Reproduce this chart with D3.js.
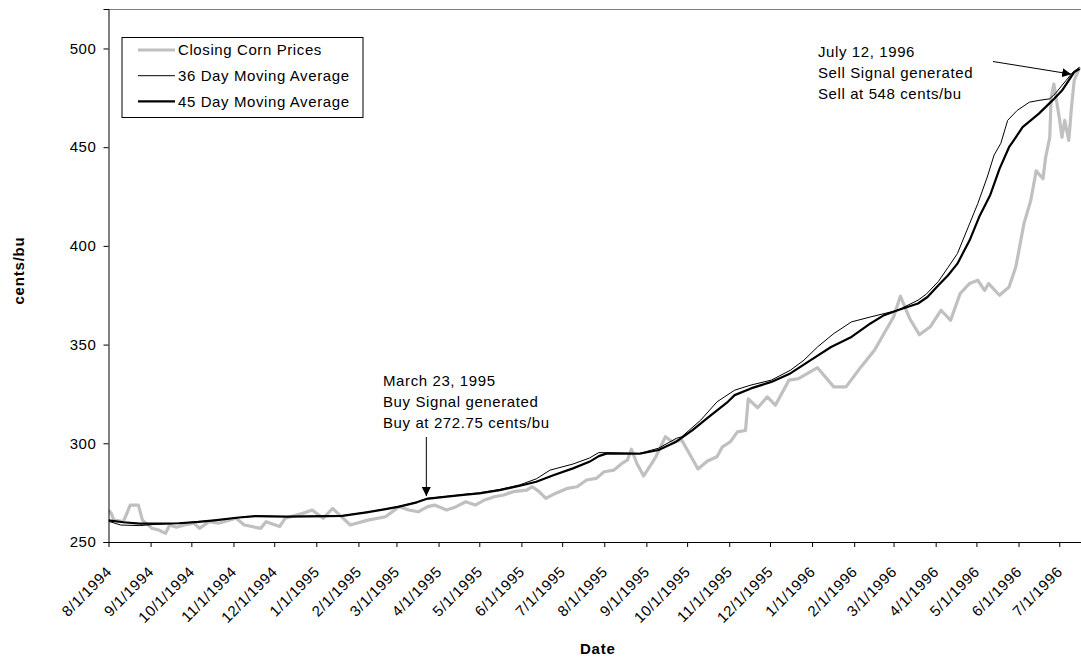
<!DOCTYPE html>
<html>
<head>
<meta charset="utf-8">
<script src="https://cdn.jsdelivr.net/npm/d3@7"></script>
<style>
  html, body { margin: 0; padding: 0; background: #fff; }
  svg { display: block; font-family: "Liberation Sans", Arial, sans-serif; }
  .lbl { font-size: 15px; letter-spacing: 0.6px; fill: #000; }
  .title { font-size: 15px; font-weight: bold; letter-spacing: 0.8px; fill: #000; }
</style>
</head>
<body>
<svg id="chart" width="1081" height="657"></svg>
<script>
// Daily closing corn prices (cents/bu), sampled
const closingPrices = [
  ["1994-08-01", 266.2], ["1994-08-03", 264.5], ["1994-08-05", 261.1], ["1994-08-12", 260.3],
  ["1994-08-17", 268.7], ["1994-08-23", 268.7], ["1994-08-26", 261.1], ["1994-09-02", 256.9],
  ["1994-09-07", 256.1], ["1994-09-12", 254.4], ["1994-09-15", 258.6], ["1994-09-20", 257.5],
  ["1994-09-26", 258.6], ["1994-10-03", 259.5], ["1994-10-07", 256.9], ["1994-10-14", 260.3],
  ["1994-10-21", 259.5], ["1994-11-03", 262.0], ["1994-11-09", 258.6], ["1994-11-21", 256.9],
  ["1994-11-25", 260.3], ["1994-12-05", 257.8], ["1994-12-09", 262.0], ["1994-12-22", 264.5],
  ["1994-12-29", 266.2], ["1995-01-06", 262.0], ["1995-01-13", 267.0], ["1995-01-26", 258.6],
  ["1995-02-08", 261.1], ["1995-02-21", 262.8], ["1995-03-03", 267.9], ["1995-03-10", 266.2],
  ["1995-03-17", 265.3], ["1995-03-24", 267.9], ["1995-03-29", 268.7], ["1995-04-07", 266.2],
  ["1995-04-14", 267.9], ["1995-04-21", 270.4], ["1995-04-28", 268.7], ["1995-05-05", 271.3],
  ["1995-05-12", 272.9], ["1995-05-19", 273.8], ["1995-05-26", 275.5], ["1995-06-05", 276.3],
  ["1995-06-09", 278.0], ["1995-06-14", 275.5], ["1995-06-19", 272.1], ["1995-06-26", 274.6],
  ["1995-07-05", 277.2], ["1995-07-12", 278.0], ["1995-07-19", 281.4], ["1995-07-26", 282.2],
  ["1995-08-01", 285.6], ["1995-08-08", 286.4], ["1995-08-14", 289.8], ["1995-08-18", 291.5],
  ["1995-08-21", 297.0], ["1995-08-25", 289.8], ["1995-08-30", 283.5], ["1995-09-05", 289.8],
  ["1995-09-08", 293.2], ["1995-09-15", 303.3], ["1995-09-20", 300.8], ["1995-09-27", 301.6],
  ["1995-10-04", 293.2], ["1995-10-09", 287.0], ["1995-10-16", 291.0], ["1995-10-23", 293.2],
  ["1995-10-27", 298.2], ["1995-11-02", 300.8], ["1995-11-07", 305.8], ["1995-11-13", 306.5],
  ["1995-11-15", 322.5], ["1995-11-22", 318.0], ["1995-11-29", 323.5], ["1995-12-05", 319.3],
  ["1995-12-15", 332.0], ["1995-12-22", 332.8], ["1996-01-05", 338.3], ["1996-01-17", 328.6],
  ["1996-01-26", 328.6], ["1996-02-06", 338.7], ["1996-02-16", 347.2], ["1996-02-23", 355.6],
  ["1996-03-01", 364.0], ["1996-03-06", 374.5], ["1996-03-13", 363.0], ["1996-03-20", 355.0],
  ["1996-03-28", 359.0], ["1996-04-05", 367.4], ["1996-04-12", 362.3], ["1996-04-19", 375.8],
  ["1996-04-26", 381.0], ["1996-05-02", 382.6], ["1996-05-07", 377.5], ["1996-05-10", 380.9],
  ["1996-05-18", 375.0], ["1996-05-25", 379.2], ["1996-05-30", 389.3], ["1996-06-05", 411.3],
  ["1996-06-10", 423.0], ["1996-06-14", 438.0], ["1996-06-19", 434.0], ["1996-06-21", 445.0],
  ["1996-06-24", 455.0], ["1996-06-25", 475.0], ["1996-06-27", 482.0], ["1996-07-01", 465.0],
  ["1996-07-03", 455.0], ["1996-07-05", 463.6], ["1996-07-08", 453.4], ["1996-07-10", 470.3],
  ["1996-07-12", 483.8], ["1996-07-16", 490.5]
];

// 36 day moving average
const movingAvg36 = [
  ["1994-08-01", 260.5], ["1994-08-10", 258.6], ["1994-08-24", 258.3], ["1994-09-06", 259.0],
  ["1994-09-22", 259.5], ["1994-10-06", 260.2], ["1994-10-18", 261.0], ["1994-11-05", 262.4],
  ["1994-11-17", 263.1], ["1994-12-10", 262.9], ["1995-01-10", 263.1], ["1995-01-20", 263.3],
  ["1995-02-07", 265.1], ["1995-02-20", 266.6], ["1995-03-03", 268.0], ["1995-03-16", 270.2],
  ["1995-03-24", 272.1], ["1995-04-07", 273.1], ["1995-04-21", 274.2], ["1995-05-01", 274.9],
  ["1995-05-16", 276.6], ["1995-05-31", 279.0], ["1995-06-12", 282.0], ["1995-06-22", 286.4],
  ["1995-07-09", 289.5], ["1995-07-21", 292.5], ["1995-07-28", 295.3], ["1995-08-03", 295.2],
  ["1995-08-27", 294.9], ["1995-09-10", 297.5], ["1995-09-23", 302.5], ["1995-09-27", 303.3],
  ["1995-10-11", 311.7], ["1995-10-23", 321.0], ["1995-11-05", 326.9], ["1995-11-17", 329.5],
  ["1995-12-02", 332.0], ["1995-12-16", 337.0], ["1995-12-26", 342.1], ["1996-01-05", 348.8],
  ["1996-01-17", 355.6], ["1996-01-30", 361.5], ["1996-02-13", 364.0], ["1996-02-23", 365.7],
  ["1996-03-04", 367.4], ["1996-03-19", 372.5], ["1996-03-25", 375.5], ["1996-04-03", 382.0],
  ["1996-04-10", 389.0], ["1996-04-17", 396.1], ["1996-04-25", 409.6], ["1996-05-02", 421.4],
  ["1996-05-09", 434.9], ["1996-05-14", 446.0], ["1996-05-19", 452.0], ["1996-05-24", 463.6],
  ["1996-05-31", 468.6], ["1996-06-09", 472.8], ["1996-06-16", 473.7], ["1996-06-24", 474.5],
  ["1996-06-28", 477.1], ["1996-07-06", 483.8], ["1996-07-11", 488.0], ["1996-07-16", 490.5]
];

// 45 day moving average
const movingAvg45 = [
  ["1994-08-01", 261.0], ["1994-08-12", 260.0], ["1994-08-24", 259.3], ["1994-09-08", 259.3],
  ["1994-09-22", 259.5], ["1994-10-06", 260.2], ["1994-10-18", 261.0], ["1994-11-05", 262.4],
  ["1994-11-17", 263.1], ["1994-12-10", 262.9], ["1995-01-10", 263.1], ["1995-01-20", 263.2],
  ["1995-02-07", 265.0], ["1995-02-20", 266.5], ["1995-03-03", 267.9], ["1995-03-16", 270.1],
  ["1995-03-23", 271.8], ["1995-04-07", 273.0], ["1995-04-21", 274.0], ["1995-05-01", 274.6],
  ["1995-05-16", 276.3], ["1995-05-31", 278.5], ["1995-06-12", 280.5], ["1995-06-25", 283.9],
  ["1995-07-09", 287.3], ["1995-07-21", 290.6], ["1995-07-28", 293.5], ["1995-08-03", 294.9],
  ["1995-08-27", 294.7], ["1995-09-10", 296.6], ["1995-09-23", 300.8], ["1995-10-05", 306.7],
  ["1995-10-17", 313.4], ["1995-10-31", 321.0], ["1995-11-05", 324.4], ["1995-11-17", 327.8],
  ["1995-12-02", 331.1], ["1995-12-16", 335.4], ["1995-12-31", 342.1], ["1996-01-15", 348.8],
  ["1996-01-30", 353.9], ["1996-02-13", 360.7], ["1996-02-23", 364.9], ["1996-03-04", 367.4],
  ["1996-03-19", 370.8], ["1996-03-26", 374.1], ["1996-04-03", 380.0], ["1996-04-10", 385.0],
  ["1996-04-17", 391.0], ["1996-04-26", 402.8], ["1996-05-03", 414.6], ["1996-05-11", 425.5],
  ["1996-05-18", 439.0], ["1996-05-25", 450.0], ["1996-05-28", 453.0], ["1996-06-04", 460.2],
  ["1996-06-16", 467.0], ["1996-06-26", 473.7], ["1996-07-03", 478.7], ["1996-07-08", 483.8],
  ["1996-07-12", 488.0], ["1996-07-16", 489.7]
];

// Axis ticks
const monthTicks = [
  "1994-08-01", "1994-09-01", "1994-10-01", "1994-11-01", "1994-12-01",
  "1995-01-01", "1995-02-01", "1995-03-01", "1995-04-01", "1995-05-01", "1995-06-01",
  "1995-07-01", "1995-08-01", "1995-09-01", "1995-10-01", "1995-11-01", "1995-12-01",
  "1996-01-01", "1996-02-01", "1996-03-01", "1996-04-01", "1996-05-01", "1996-06-01", "1996-07-01"
];
const priceTicks = [250, 300, 350, 400, 450, 500];

// Legend entries and annotations
const seriesNames = ["Closing Corn Prices", "36 Day Moving Average", "45 Day Moving Average"];
const buyNote = { date: "1995-03-23", value: 272.75,
  lines: ["March 23, 1995", "Buy Signal generated", "Buy at 272.75 cents/bu"] };
const sellNote = { date: "1996-07-12", value: 487,
  lines: ["July 12, 1996", "Sell Signal generated", "Sell at 548 cents/bu"] };

const parse = d3.timeParse("%Y-%m-%d");
const fmt = d3.timeFormat("%-m/%-d/%Y");

const svg = d3.select("#chart");
const plot = { left: 108.5, right: 1081, top: 9, bottom: 542 };

const x = d3.scaleTime()
  .domain([parse("1994-08-01"), parse("1996-07-17")])
  .range([plot.left, plot.right]);
const y = d3.scaleLinear()
  .domain([250, 520])
  .range([plot.bottom, plot.top]);

const defs = svg.append("defs");
defs.append("clipPath").attr("id", "plotClip")
  .append("rect")
  .attr("x", plot.left).attr("y", plot.top)
  .attr("width", plot.right - plot.left + 5).attr("height", plot.bottom - plot.top);
defs.append("marker")
  .attr("id", "arrowHead")
  .attr("viewBox", "0 0 10 10")
  .attr("refX", 10).attr("refY", 5)
  .attr("markerWidth", 9).attr("markerHeight", 9)
  .attr("markerUnits", "userSpaceOnUse")
  .attr("orient", "auto")
  .append("path").attr("d", "M0,0 L10,5 L0,10 Z").attr("fill", "#000");

// plot frame (top edge)
svg.append("line")
  .attr("x1", plot.left).attr("x2", plot.right + 5)
  .attr("y1", plot.top + 0.5).attr("y2", plot.top + 0.5)
  .attr("stroke", "#808080").attr("stroke-width", 1);

// series
const line = d3.line()
  .x(d => x(parse(d[0])))
  .y(d => y(d[1]));

const g = svg.append("g").attr("clip-path", "url(#plotClip)");
g.append("path").datum(closingPrices)
  .attr("d", line).attr("fill", "none")
  .attr("stroke", "#c0c0c0").attr("stroke-width", 3.2)
  .attr("stroke-linejoin", "round");
g.append("path").datum(movingAvg45)
  .attr("d", line).attr("fill", "none")
  .attr("stroke", "#000").attr("stroke-width", 2.2)
  .attr("stroke-linejoin", "round");
g.append("path").datum(movingAvg36)
  .attr("d", line).attr("fill", "none")
  .attr("stroke", "#000").attr("stroke-width", 1)
  .attr("stroke-linejoin", "round");

// y axis
const yAxis = svg.append("g")
  .attr("transform", `translate(${plot.left},0)`)
  .call(d3.axisLeft(y).tickValues(priceTicks).tickSize(5).tickPadding(7));
yAxis.select(".domain").attr("stroke", "#000");
yAxis.selectAll(".tick line").attr("stroke", "#000");
yAxis.selectAll(".tick text")
  .attr("class", "lbl")
  .style("font-size", null).attr("font-size", null).attr("font-family", null);

// x axis
const xAxis = svg.append("g")
  .attr("transform", `translate(0,${plot.bottom})`)
  .call(d3.axisBottom(x).tickValues(monthTicks.map(parse)).tickFormat(fmt).tickSize(5));
xAxis.select(".domain").attr("stroke", "#000")
  .attr("d", `M${plot.left},0.5H${plot.right + 5}`);
xAxis.selectAll(".tick line").attr("stroke", "#000");
xAxis.selectAll(".tick text")
  .attr("class", "lbl")
  .attr("font-size", null).attr("font-family", null)
  .attr("y", null).attr("dy", "0.35em")
  .attr("text-anchor", "end")
  .attr("transform", "translate(0,27) rotate(-45)");

// axis titles
svg.append("text").attr("class", "title")
  .attr("x", (plot.left + plot.right) / 2 + 3).attr("y", 654)
  .attr("text-anchor", "middle").text("Date");
svg.append("text").attr("class", "title")
  .attr("transform", `translate(24,${(plot.top + plot.bottom) / 2 - 5}) rotate(-90)`)
  .attr("text-anchor", "middle").text("cents/bu");

// legend
const legend = svg.append("g").attr("transform", "translate(122,37.5)");
legend.append("rect")
  .attr("width", 241).attr("height", 80)
  .attr("fill", "#fff").attr("stroke", "#000").attr("stroke-width", 1);
const legendStyles = [
  { stroke: "#c0c0c0", width: 3.2 },
  { stroke: "#000", width: 1 },
  { stroke: "#000", width: 2.2 }
];
seriesNames.forEach((name, i) => {
  const cy = 12.5 + i * 25.7;
  legend.append("line")
    .attr("x1", 16).attr("x2", 53).attr("y1", cy).attr("y2", cy)
    .attr("stroke", legendStyles[i].stroke).attr("stroke-width", legendStyles[i].width);
  legend.append("text").attr("class", "lbl")
    .attr("x", 56).attr("y", cy).attr("dy", "0.36em").text(name);
});

// buy annotation
const bx = x(parse(buyNote.date));
const by = y(buyNote.value);
const buyText = svg.append("text").attr("class", "lbl");
buyNote.lines.forEach((t, i) => {
  buyText.append("tspan").attr("x", 383).attr("y", 386 + i * 21).text(t);
});
svg.append("line")
  .attr("x1", bx).attr("x2", bx)
  .attr("y1", 437).attr("y2", by - 1)
  .attr("stroke", "#000").attr("stroke-width", 1)
  .attr("marker-end", "url(#arrowHead)");

// sell annotation
const sx = x(parse(sellNote.date));
const sy = y(sellNote.value);
const sellText = svg.append("text").attr("class", "lbl");
sellNote.lines.forEach((t, i) => {
  sellText.append("tspan").attr("x", 818).attr("y", 57 + i * 21).text(t);
});
svg.append("line")
  .attr("x1", 993).attr("y1", 61.5)
  .attr("x2", sx - 3).attr("y2", sy)
  .attr("stroke", "#000").attr("stroke-width", 1)
  .attr("marker-end", "url(#arrowHead)");
</script>
</body>
</html>
